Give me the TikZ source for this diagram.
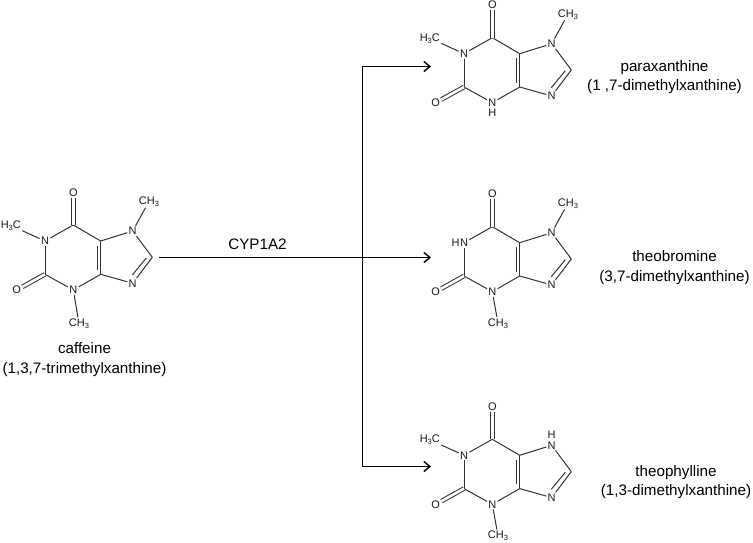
\documentclass[tikz,border=0pt]{standalone}
\usepackage{fontspec}
\setmainfont{Liberation Sans}
\usetikzlibrary{arrows.meta}
\tikzstyle{atom} = [font=\fontsize{11}{12}\selectfont, inner sep=1.2pt, text=black!90]
\tikzstyle{molname} = [font=\fontsize{15.2}{19.5}\selectfont, align=center, inner sep=0pt]
\tikzstyle{bond} = [line width=1pt, black!80]
\tikzstyle{carbonyl} = [bond, double, double distance=2.6pt]
\tikzstyle{arrow} = [line width=1.4pt, -{Straight Barb[length=6pt,width=10pt]}]
\newcommand{\subnum}[1]{\raisebox{-2pt}{\fontsize{7.5}{8}\selectfont #1}}
% ring atoms of the xanthine skeleton
\newcommand{\xanthine}{
    \coordinate (C6) at (0,0);
    \node (N1) [atom] at (-28.3,16) {N};
    \coordinate (C2) at (-28.3,49.3);
    \node (N3) [atom] at (0,65) {N};
    \coordinate (C4) at (27.4,49.3);
    \coordinate (C5) at (27.4,16);
    \node (N7) [atom] at (59.4,6) {N};
    \coordinate (C8) at (79,32.3);
    \node (N9) [atom] at (59.4,58.3) {N};
    \node (O6) [atom] at (0,-32.7) {O};
    \node (O2) [atom] at (-56.6,65) {O};
    \coordinate (C4i) at (24,45);
    \coordinate (C5i) at (24,20.5);
    \coordinate (C8i) at (73,33);
    \coordinate (N9i) at (59,50);
    \draw [bond] (C6) -- (N1);
    \draw [bond] (N1) -- (C2);
    \draw [bond] (C2) -- (N3);
    \draw [bond] (N3) -- (C4);
    \draw [bond] (C4) -- (C5);
    \draw [bond] (C5) -- (C6);
    \draw [bond] (C5) -- (N7);
    \draw [bond] (N7) -- (C8);
    \draw [bond] (C8) -- (N9);
    \draw [bond] (N9) -- (C4);
    \draw [bond] (C4i) -- (C5i);
    \draw [bond] (C8i) -- (N9i);
    \draw [carbonyl] (C6) -- (O6);
    \draw [carbonyl] (C2) -- (O2);
}
\begin{document}
\begin{tikzpicture}[x=1pt,y=-1pt]
    \useasboundingbox (0,0) rectangle (753,543);

    \begin{scope}[shift={(73.3,225)}, name prefix=caffeine-]
        \xanthine
        \node (Me1) [atom] at (-62.5,0.5) {H\subnum{3}C};
        \node (Me3) [atom] at (5.7,98.5) {CH\subnum{3}};
        \node (Me7) [atom] at (75.7,-23.5) {CH\subnum{3}};
        \draw [bond] (N1) -- (Me1);
        \draw [bond] (N3) -- (Me3);
        \draw [bond] (N7) -- (Me7);
    \end{scope}
    \begin{scope}[shift={(492.3,37.7)}, name prefix=para-]
        \xanthine
        \node (H3) [atom, inner sep=0pt] at (0,75.5) {H};
        \node (Me1) [atom] at (-62.5,0.5) {H\subnum{3}C};
        \node (Me7) [atom] at (75.7,-23.5) {CH\subnum{3}};
        \draw [bond] (N1) -- (Me1);
        \draw [bond] (N7) -- (Me7);
    \end{scope}
    \begin{scope}[shift={(492.3,226.7)}, name prefix=bromine-]
        \xanthine
        \node (H1) [atom, inner sep=0pt] at (-36.6,16) {H};
        \node (Me3) [atom] at (5.7,96.5) {CH\subnum{3}};
        \node (Me7) [atom] at (75.7,-23.5) {CH\subnum{3}};
        \draw [bond] (N3) -- (Me3);
        \draw [bond] (N7) -- (Me7);
    \end{scope}
    \begin{scope}[shift={(492.3,439.3)}, name prefix=phylline-]
        \xanthine
        \node (H7) [atom, inner sep=0pt] at (59.4,-5) {H};
        \node (Me1) [atom] at (-62.5,0.5) {H\subnum{3}C};
        \node (Me3) [atom] at (5.7,96.5) {CH\subnum{3}};
        \draw [bond] (N1) -- (Me1);
        \draw [bond] (N3) -- (Me3);
    \end{scope}

    \node (caffeine) [molname] at (84.5,359.5) {caffeine\\(1,3,7-trimethylxanthine)};
    \node (paraxanthine) [molname] at (664.5,77) {paraxanthine\\(1 ,7-dimethylxanthine)};
    \node (theobromine) [molname] at (674.5,267.5) {theobromine\\(3,7-dimethylxanthine)};
    \node (theophylline) [molname] at (676,482) {theophylline\\(1,3-dimethylxanthine)};
    \node (enzyme) [font=\fontsize{15.2}{18}\selectfont, inner sep=0pt] at (257.5,244.5) {CYP1A2};

    \coordinate (start) at (159,257.5);
    \coordinate (split) at (362.5,257.5);
    \coordinate (top) at (362.5,66.5);
    \coordinate (bottom) at (362.5,466.5);
    \coordinate (to_para) at (431,66.5);
    \coordinate (to_bromine) at (431,257.5);
    \coordinate (to_phylline) at (431,466.5);

    \draw [arrow] (start) -- (to_bromine);
    \draw [arrow] (split) -- (top) -- (to_para);
    \draw [arrow] (split) -- (bottom) -- (to_phylline);
\end{tikzpicture}
\end{document}
